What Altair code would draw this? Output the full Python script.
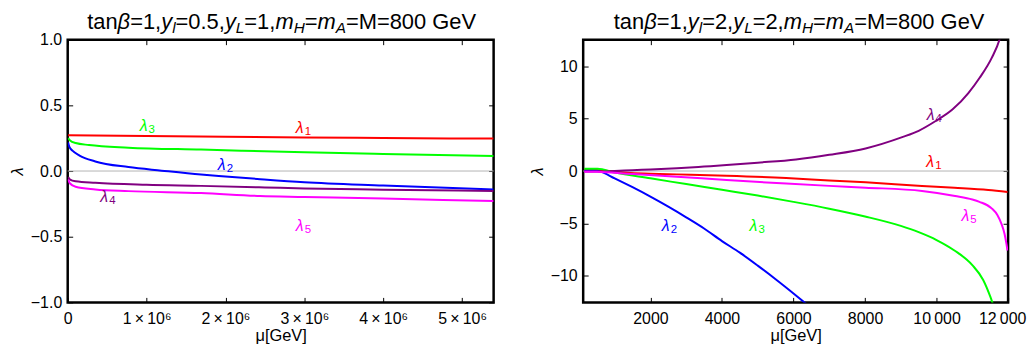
import altair as alt
import pandas as pd

FONT = "Liberation Sans"
SERIES = ["1", "2", "3", "4", "5"]
COLORS = ["#ff0000", "#0000ff", "#00ff00", "#800080", "#ff00ff"]

# ---------------- Left panel: tanb=1, y_l=0.5, y_L=1  (mu in GeV) ----------------
L1_MU = [5e3, 1.0e6, 2.0e6, 3.0e6, 4.0e6, 5.4e6]
L1_VAL = [0.272, 0.266, 0.261, 0.256, 0.251, 0.247]
L2_MU = [5e3, 2e4, 6e4, 1.5e5, 3.5e5, 7.7e5, 1.19e6, 1.69e6, 2.0e6, 2.44e6, 3.0e6, 4.0e6, 5.4e6]
L2_VAL = [0.218, 0.185, 0.155, 0.118, 0.073, 0.03, 0.003, -0.027, -0.042, -0.062, -0.085, -0.11, -0.14]
L3_MU = [5e3, 3e4, 1e5, 2.7e5, 7.7e5, 1.69e6, 2.2e6, 3.0e6, 4.0e6, 5.4e6]
L3_VAL = [0.25, 0.232, 0.213, 0.198, 0.178, 0.163, 0.155, 0.143, 0.13, 0.115]
L4_MU = [5e3, 3e4, 1e5, 3.5e5, 1.0e6, 1.69e6, 2.5e6, 3.0e6, 4.0e6, 5.4e6]
L4_VAL = [-0.045, -0.065, -0.078, -0.09, -0.105, -0.113, -0.125, -0.133, -0.142, -0.152]
L5_MU = [5e3, 3e4, 1e5, 3.5e5, 7.7e5, 1.69e6, 2.44e6, 3.0e6, 4.0e6, 5.4e6]
L5_VAL = [-0.063, -0.095, -0.12, -0.14, -0.153, -0.168, -0.19, -0.197, -0.21, -0.228]

L_LABEL_MU = [2.98e6, 1.99e6, 1.0e6, 0.5e6, 2.98e6]
L_LABEL_VAL = [0.33, 0.043, 0.34, -0.2, -0.42]

# ---------------- Right panel: tanb=1, y_l=2, y_L=2 ----------------
R1_MU = [150, 500, 1000, 1353, 2000, 2742, 4130, 5797, 7000, 8016, 9594, 10500, 11446, 11983]
R1_VAL = [0.16, 0.1, -0.05, -0.16, -0.25, -0.32, -0.45, -0.67, -0.9, -1.08, -1.43, -1.6, -1.81, -2.0]
R2_MU = [150, 400, 600, 1000, 1500, 2000, 2500, 3000, 3500, 4000, 4500, 5000, 5500, 6000, 6400]
R2_VAL = [0.06, 0.04, -0.06, -0.7, -1.55, -2.45, -3.41, -4.43, -5.5, -6.7, -7.81, -9.05, -10.35, -11.71, -12.83]
R3_MU = [150, 520, 1000, 2000, 3000, 4000, 5000, 6000, 7000, 8000, 9000, 9500, 10000, 10500, 11000, 11300, 11500, 11650]
R3_VAL = [0.22, 0.22, -0.15, -0.7, -1.25, -1.8, -2.35, -2.95, -3.6, -4.35, -5.25, -5.85, -6.6, -7.6, -9.0, -10.4, -12.0, -13.5]
R4_MU = [150, 600, 1000, 1500, 2000, 2742, 3500, 4130, 5000, 6070, 7000, 8016, 9039, 9500, 9964, 10450, 10889, 11200, 11539, 11769, 11900]
R4_VAL = [-0.05, -0.05, 0.0, 0.08, 0.15, 0.27, 0.43, 0.57, 0.8, 1.11, 1.55, 2.16, 3.24, 3.85, 4.76, 5.9, 7.46, 8.9, 10.8, 12.67, 14.5]
R5_MU = [150, 500, 1353, 2742, 4130, 5797, 7000, 8016, 9594, 10519, 11000, 11200, 11550, 11700, 11817, 11900, 11955, 11983]
R5_VAL = [-0.06, -0.08, -0.25, -0.54, -0.86, -1.2, -1.42, -1.59, -1.9, -2.38, -2.72, -2.95, -3.6, -4.2, -5.08, -6.0, -7.0, -7.6]

R_LABEL_MU = [9908, 2510, 4964, 9917, 10889]
R_LABEL_VAL = [0.89, -5.24, -5.24, 5.4, -4.29]

# axis ticks
L_XTICKS = [0, 1e6, 2e6, 3e6, 4e6, 5e6]
L_YTICKS = [-1.0, -0.5, 0.0, 0.5, 1.0]
R_XTICKS = [2000, 4000, 6000, 8000, 10000, 12000]
R_YTICKS = [-10, -5, 0, 5, 10]

L_TITLE = [("tan", "n"), ("β", "i"), ("=1,", "n"), ("y", "i"), ("l", "s"), ("=0.5,", "n"),
           ("y", "i"), ("L", "s"), ("=1,", "n"), ("m", "i"), ("H", "s"), ("=", "n"),
           ("m", "i"), ("A", "s"), ("=M=800 GeV", "n")]
R_TITLE = [("tan", "n"), ("β", "i"), ("=1,", "n"), ("y", "i"), ("l", "s"), ("=2,", "n"),
           ("y", "i"), ("L", "s"), ("=2,", "n"), ("m", "i"), ("H", "s"), ("=", "n"),
           ("m", "i"), ("A", "s"), ("=M=800 GeV", "n")]

# approximate advance widths (1/1000 em) for title layout
ADV = {'t': 278, 'a': 556, 'n': 556, 'β': 575, '=': 584, '1': 556, ',': 278, 'y': 500,
       'l': 222, '0': 556, '.': 278, '5': 556, 'L': 556, 'm': 833, 'H': 722, 'A': 667,
       'M': 833, '8': 556, ' ': 278, 'G': 778, 'e': 556, 'V': 667, '2': 556}

TITLE_FS = 22
SUB_FS = 15.4
PLOT_H = 264
TICK_FS = 16


def long_df(mus, vals):
    rows = []
    for s, m, v in zip(SERIES, mus, vals):
        for a, b in zip(m, v):
            rows.append({"s": s, "mu": a, "val": b})
    return pd.DataFrame(rows)


def title_layers(segs, center, ybase):
    widths = []
    for txt, st in segs:
        fs = SUB_FS if st == "s" else TITLE_FS
        widths.append(sum(ADV.get(c, 556) for c in txt) / 1000.0 * fs)
    x = center - sum(widths) / 2.0
    out = []
    dummy = pd.DataFrame({"a": [0]})
    for (txt, st), w in zip(segs, widths):
        fs = SUB_FS if st == "s" else TITLE_FS
        y = ybase + (4 if st == "s" else 0)
        out.append(
            alt.Chart(dummy).mark_text(
                text=txt, font=FONT, fontSize=fs,
                fontStyle="normal" if st == "n" else "italic",
                align="left", baseline="alphabetic", color="black",
            ).encode(x=alt.value(x), y=alt.value(y))
        )
        x += w
    return out


def panel(df, lab, xdom, ydom, xvals, xexpr, yvals, yfmt, width, height, tsegs, tcenter, last_shift):
    xs = alt.Scale(domain=xdom, nice=False, zero=False)
    ys = alt.Scale(domain=ydom, nice=False, zero=False)
    main_x = alt.Axis(values=xvals, labelExpr=xexpr, title="μ[GeV]", ticks=False, domain=False,
                      grid=False, labelPadding=8, labelFlush=False, labelOverlap=False, titlePadding=1,
                      labelOffset=alt.condition(f"datum.value >= {xvals[-1]}", alt.value(last_shift), alt.value(0)))
    main_y = alt.Axis(values=yvals, format=yfmt, title="λ", ticks=False, domain=False, grid=False,
                      labelPadding=6, labelFlush=False, labelOverlap=False, titlePadding=5,
                      titleFontStyle="italic")
    color = alt.Color("s:N", scale=alt.Scale(domain=SERIES, range=COLORS), legend=None)

    def tick_axis(orient, vals):
        return alt.Axis(orient=orient, values=vals, labels=False, title=None, domain=False, grid=False,
                        ticks=True, tickSize=5, offset=-5, tickColor="black", tickWidth=1)

    ghost_df = pd.DataFrame({"mu": [xdom[0]], "val": [ydom[0]]})
    zero = alt.Chart(pd.DataFrame({"v": [0]})).mark_rule(color="#b4b4b4", strokeWidth=1).encode(
        y=alt.Y("v:Q", scale=ys, axis=None))
    lines = alt.Chart(df).mark_line(clip=True, strokeWidth=2, interpolate="monotone").encode(
        x=alt.X("mu:Q", scale=xs, axis=main_x),
        y=alt.Y("val:Q", scale=ys, axis=main_y),
        color=color)
    g1 = alt.Chart(ghost_df).mark_point(opacity=0, size=1).encode(
        x=alt.X("mu:Q", scale=xs, axis=tick_axis("top", xvals)),
        y=alt.Y("val:Q", scale=ys, axis=tick_axis("right", yvals)))
    g2 = alt.Chart(ghost_df).mark_point(opacity=0, size=1).encode(
        x=alt.X("mu:Q", scale=xs, axis=tick_axis("bottom", xvals)),
        y=alt.Y("val:Q", scale=ys, axis=tick_axis("left", yvals)))
    lam = alt.Chart(lab).mark_text(text="λ", font=FONT, fontSize=16, fontStyle="italic",
                                   align="center", baseline="middle", dx=-3).encode(
        x=alt.X("mu:Q", scale=xs, axis=None), y=alt.Y("val:Q", scale=ys, axis=None), color=color)
    sub = alt.Chart(lab).mark_text(font=FONT, fontSize=11.5, align="left", baseline="middle",
                                   dx=2, dy=4).encode(
        x=alt.X("mu:Q", scale=xs, axis=None), y=alt.Y("val:Q", scale=ys, axis=None),
        text="s:N", color=color)
    layers = [zero, lines, g1, g2, lam, sub] + title_layers(tsegs, tcenter, -11)
    return alt.layer(*layers).resolve_axis(x="independent", y="independent").properties(
        width=width, height=height)


left_df = long_df([L1_MU, L2_MU, L3_MU, L4_MU, L5_MU], [L1_VAL, L2_VAL, L3_VAL, L4_VAL, L5_VAL])
right_df = long_df([R1_MU, R2_MU, R3_MU, R4_MU, R5_MU], [R1_VAL, R2_VAL, R3_VAL, R4_VAL, R5_VAL])
left_lab = pd.DataFrame({"s": SERIES, "mu": L_LABEL_MU, "val": L_LABEL_VAL})
right_lab = pd.DataFrame({"s": SERIES, "mu": R_LABEL_MU, "val": R_LABEL_VAL})

L_XEXPR = "datum.value == 0 ? '0' : format(datum.value / 1000000, 'd') + '\u2009×\u200910⁶'"
R_XEXPR = "datum.value >= 10000 ? format(floor(datum.value / 1000), 'd') + '\u2009000' : format(datum.value, 'd')"

left = panel(left_df, left_lab, [0, 5.4e6], [-1, 1], L_XTICKS, L_XEXPR, L_YTICKS, ".1f",
             428, PLOT_H, L_TITLE, 215, 0)
right = panel(right_df, right_lab, [120, 12000], [-12.566, 12.566], R_XTICKS, R_XEXPR, R_YTICKS, "d",
              427, PLOT_H, R_TITLE, 217, -6)

chart = alt.hconcat(left, right, spacing=32).properties(padding=0).configure_view(
    stroke="black", strokeWidth=2.5
).configure_axis(
    labelFont=FONT, titleFont=FONT, labelFontSize=TICK_FS, titleFontSize=16.5,
    labelColor="black", titleColor="black", titleFontWeight="normal"
)

chart.save("out.html", embed_options={"renderer": "svg", "actions": False})
